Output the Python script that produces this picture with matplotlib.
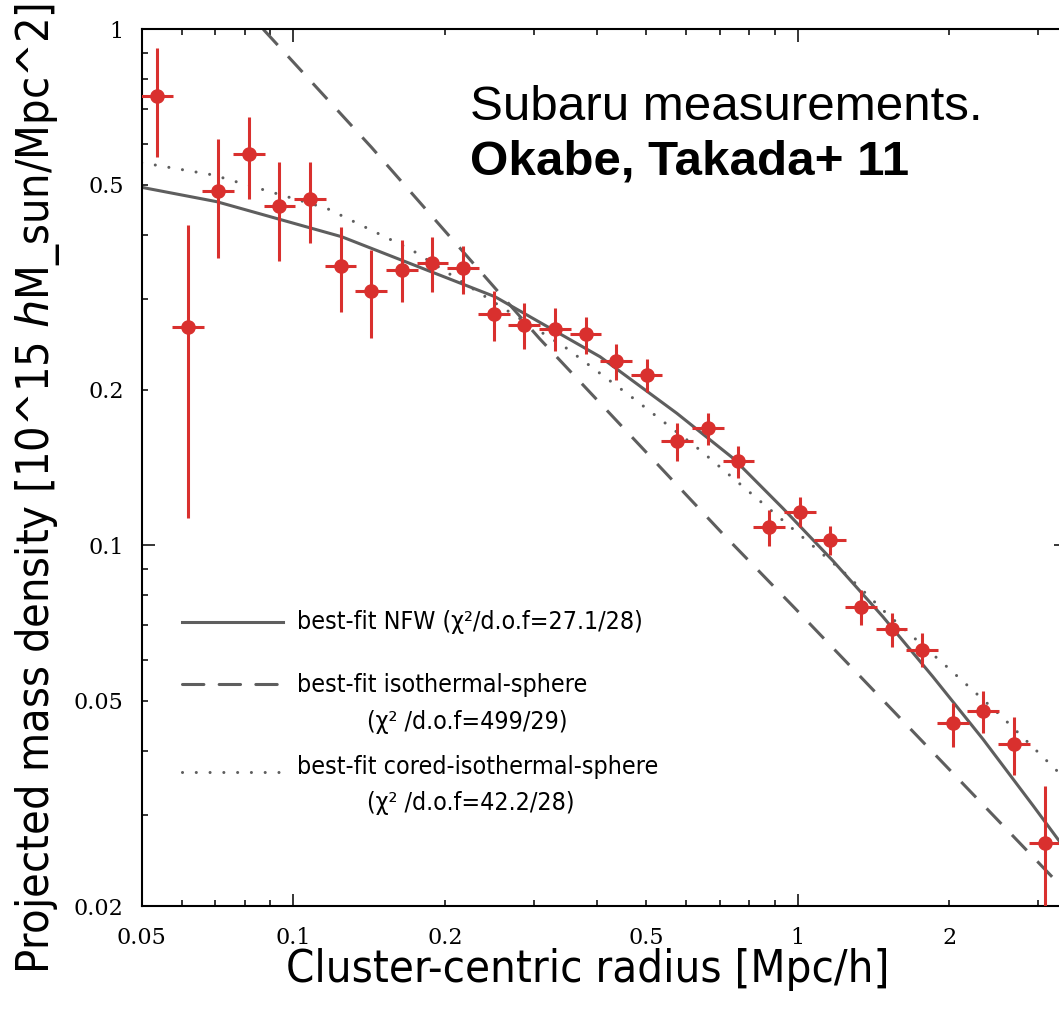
import matplotlib
matplotlib.use('Agg')
import matplotlib.pyplot as plt
from matplotlib import font_manager
from matplotlib.ticker import LogLocator, FuncFormatter
import numpy as np

# measured profile (Subaru, Okabe & Takada 2011)
radius = [0.0536, 0.0617, 0.0709, 0.0815, 0.0938, 0.1079, 0.1240, 0.1426, 0.1640, 0.1886,
          0.2169, 0.2495, 0.2869, 0.3300, 0.3795, 0.4364, 0.5016, 0.5769, 0.6634, 0.7629,
          0.8774, 1.009, 1.160, 1.334, 1.535, 1.765, 2.030, 2.334, 2.684, 3.087]
sigma = [0.742, 0.265, 0.486, 0.573, 0.455, 0.469, 0.348, 0.311, 0.342, 0.352,
         0.344, 0.281, 0.267, 0.263, 0.257, 0.228, 0.214, 0.159, 0.169, 0.146,
         0.1086, 0.1162, 0.1024, 0.0759, 0.0689, 0.0627, 0.0452, 0.0477, 0.0412, 0.0265]
sigma_hi = [0.921, 0.418, 0.613, 0.676, 0.553, 0.553, 0.414, 0.374, 0.391, 0.396,
            0.380, 0.311, 0.295, 0.288, 0.277, 0.2455, 0.2296, 0.1726, 0.1805, 0.1557,
            0.1170, 0.1240, 0.1090, 0.0819, 0.0739, 0.0676, 0.0495, 0.0522, 0.0465, 0.0342]
sigma_lo = [0.566, 0.113, 0.360, 0.469, 0.356, 0.385, 0.283, 0.252, 0.296, 0.310,
            0.307, 0.249, 0.240, 0.238, 0.235, 0.209, 0.198, 0.1457, 0.1564, 0.1350,
            0.0997, 0.1085, 0.0958, 0.0701, 0.0635, 0.0581, 0.0406, 0.0433, 0.0359, 0.017]
bin_half_dex = 0.0315

# best-fit model curves
nfw_r = [0.05, 0.0704, 0.1246, 0.251, 0.4055, 0.5756, 0.7445, 0.9352, 1.1748, 1.476,
         1.855, 2.331, 2.930, 3.314, 3.45]
nfw_s = [0.494, 0.4634, 0.3963, 0.3032, 0.2320, 0.1803, 0.1475, 0.1179, 0.0933, 0.0727,
         0.0556, 0.0421, 0.0313, 0.0266, 0.0252]
sis_r = [0.0871, 0.1429, 0.2529, 0.3073, 0.712, 0.9877, 3.288, 3.45]
sis_s = [1.0, 0.590, 0.3125, 0.2518, 0.1050, 0.0755, 0.02213, 0.0211]
cored_r = [0.05, 0.0693, 0.1164, 0.1716, 0.3483, 0.472, 0.640, 0.868, 1.2316, 1.5, 1.975, 2.52, 3.21, 3.45]
cored_s = [0.5514, 0.522, 0.4498, 0.3736, 0.2408, 0.1927, 0.1530, 0.1188, 0.0889, 0.0738, 0.0582, 0.0469, 0.0372, 0.0347]

xtick_labels = {0.05: '0.05', 0.1: '0.1', 0.2: '0.2', 0.5: '0.5', 1.0: '1', 2.0: '2'}
ytick_labels = {0.02: '0.02', 0.05: '0.05', 0.1: '0.1', 0.2: '0.2', 0.5: '0.5', 1.0: '1'}

legend_rows = [
    ('-', 'best-fit NFW (χ²/d.o.f=27.1/28)', None),
    ('--', 'best-fit isothermal-sphere', '(χ² /d.o.f=499/29)'),
    (':', 'best-fit cored-isothermal-sphere', '(χ² /d.o.f=42.2/28)'),
]

RED = '#d9302e'
GREY = '#5e5e5e'
STYLES = {'-': '-', '--': (0, (7, 5)), ':': (0, (0.01, 4.5))}


def pick_narrow():
    # look for a narrow / condensed sans; fall back to Liberation Sans
    prefs = ['Liberation Sans Narrow', 'DejaVu Sans', 'Noto Sans', 'Open Sans', 'Roboto', 'Inter', 'Lato']
    found = []
    for f in font_manager.fontManager.ttflist:
        narrow = f.stretch in ('condensed', 'semi-condensed', 'extra-condensed') \
            or 'Narrow' in f.name or 'Condensed' in f.name
        if narrow and f.style == 'normal' and f.weight in (400, 'normal', 'regular'):
            rank = prefs.index(f.name) if f.name in prefs else len(prefs)
            found.append((rank, f))
    if found:
        found.sort(key=lambda t: t[0])
        f = found[0][1]
        return font_manager.FontProperties(fname=f.fname), f.name
    return font_manager.FontProperties(family='Liberation Sans'), 'Liberation Sans'


narrow_fp, narrow_name = pick_narrow()

plt.rcParams['font.family'] = 'DejaVu Serif'
plt.rcParams['mathtext.fontset'] = 'custom'
plt.rcParams['mathtext.it'] = narrow_name + ':italic:stretch=condensed'
plt.rcParams['mathtext.rm'] = narrow_name + ':stretch=condensed'

fig = plt.figure(figsize=(10.59, 10.13), dpi=100)
ax = fig.add_axes([0.1338, 0.1056, 0.8728, 0.8655])
ax.set_xscale('log')
ax.set_yscale('log')
ax.set_xlim(0.05, 3.405)
ax.set_ylim(0.02, 1.0)

ax.plot(nfw_r, nfw_s, color=GREY, lw=2.2, ls=STYLES['-'])
ax.plot(sis_r, sis_s, color=GREY, lw=2.2, ls=STYLES['--'])
ax.plot(cored_r, cored_s, color=GREY, lw=2.2, ls=STYLES[':'], dash_capstyle='round')

r = np.array(radius)
s = np.array(sigma)
xerr = [r - r * 10 ** -bin_half_dex, r * 10 ** bin_half_dex - r]
yerr = [s - np.array(sigma_lo), np.array(sigma_hi) - s]
ax.errorbar(r, s, xerr=xerr, yerr=yerr, fmt='o', color=RED, ms=9.5,
            elinewidth=2.2, capsize=0, zorder=3)


def fmt_from(labels):
    def f(v, pos):
        for k, t in labels.items():
            if abs(v - k) / k < 1e-6:
                return t
        return ''
    return FuncFormatter(f)


for axis, labels in ((ax.xaxis, xtick_labels), (ax.yaxis, ytick_labels)):
    axis.set_major_locator(LogLocator(base=10))
    axis.set_minor_locator(LogLocator(base=10, subs=np.arange(2, 10)))
    axis.set_major_formatter(fmt_from(labels))
    axis.set_minor_formatter(fmt_from(labels))

ax.tick_params(which='both', direction='in', top=True, right=True, width=1.1,
               labelsize=16, color='black')
ax.tick_params(which='major', length=9)
ax.tick_params(which='minor', length=4.5)
ax.tick_params(axis='x', which='both', pad=15)
ax.tick_params(axis='y', which='both', pad=13)
for sp in ax.spines.values():
    sp.set_linewidth(1.5)

# legend drawn by hand (axes fractions)
legend_texts = []
row_y = [(0.3239, 0.3239, None), (0.2532, 0.2521, 0.2102), (0.1532, 0.1589, 0.1175)]
for (ls, first, second), (ly, ty, ty2) in zip(legend_rows, row_y):
    ax.plot([0.0435, 0.1530], [ly, ly], transform=ax.transAxes, color=GREY, lw=2.2,
            ls=STYLES[ls], dash_capstyle='round', clip_on=False)
    legend_texts.append(ax.text(0.1684, ty, first, transform=ax.transAxes,
                                fontproperties=narrow_fp, fontsize=20, va='center', ha='left'))
    if second:
        legend_texts.append(ax.text(0.2437, ty2, second, transform=ax.transAxes,
                                    fontproperties=narrow_fp, fontsize=20, va='center', ha='left'))

ax.text(0.3555, 0.8966, 'Subaru measurements.', transform=ax.transAxes, family='Liberation Sans',
        fontsize=35.5, va='baseline', ha='left')
ax.text(0.3555, 0.8338, 'Okabe, Takada+ 11', transform=ax.transAxes, family='Liberation Sans',
        fontsize=35.5, fontweight='bold', va='baseline', ha='left')

xl = fig.text(588 / 1059, 1 - 969 / 1013, 'Cluster-centric radius [Mpc/h]',
              fontproperties=narrow_fp, fontsize=36, ha='center', va='center')
yl = fig.text(38 / 1059, 1 - 489 / 1013, 'Projected mass density [10^15 $h$M_sun/Mpc^2]',
              fontproperties=narrow_fp, fontsize=36, rotation=90, ha='center', va='center')

# scale the text so it spans the same length as in the reference
renderer = fig.canvas.get_renderer()
xl.set_fontsize(36 * 603 / xl.get_window_extent(renderer).width)
yl.set_fontsize(36 * 972 / yl.get_window_extent(renderer).height)
leg_w = legend_texts[1].get_window_extent(renderer).width
for t in legend_texts:
    t.set_fontsize(20 * 290 / leg_w)

fig.savefig('out.png', dpi=100)
